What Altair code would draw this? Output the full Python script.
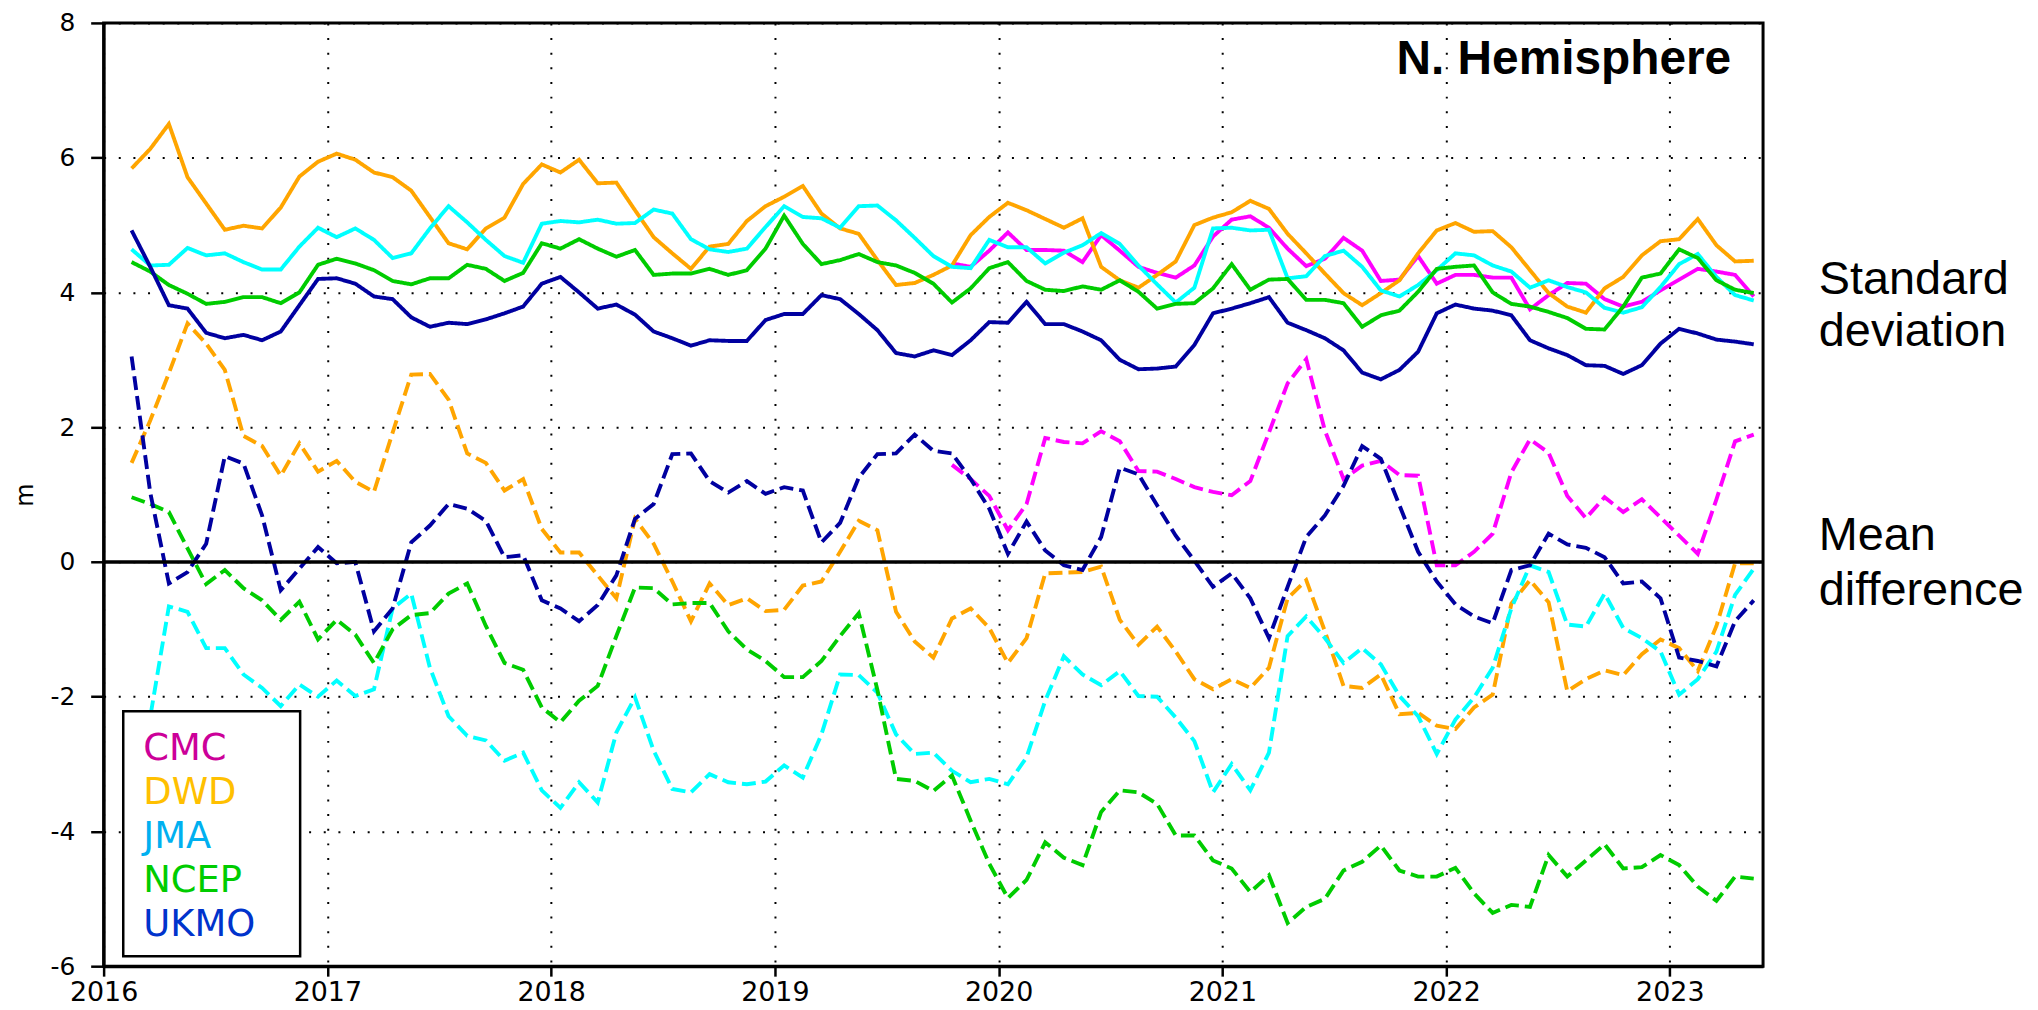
import altair as alt
import pandas as pd

# ---------------- data ----------------
models = ["CMC", "DWD", "JMA", "NCEP", "UKMO"]
line_colors = ["#ff00ff", "#ffa500", "#00ffff", "#00cc00", "#0000a0"]
legend_colors = ["#cc0099", "#ffc000", "#00b0f0", "#00cc00", "#0033cc"]
year_ticks = [2016, 2017, 2018, 2019, 2020, 2021, 2022, 2023]
value_ticks = [-6, -4, -2, 0, 2, 4, 6, 8]

# monthly points, Feb 2016 .. May 2023
months = []
for yy in range(2016, 2024):
    for mm in range(1, 13):
        if (2016, 2) <= (yy, mm) <= (2023, 5):
            months.append(f"{yy}-{mm:02d}")

# Standard deviation (solid)
dwd_sd = [5.84, 6.13, 6.50, 5.71, 5.32, 4.93, 4.99, 4.95, 5.26, 5.72,
          5.94, 6.06, 5.97, 5.78, 5.71, 5.51, 5.12, 4.73, 4.64, 4.95,
          5.11, 5.61, 5.90, 5.78, 5.97, 5.62, 5.63, 5.22, 4.82, 4.58,
          4.35, 4.68, 4.72, 5.06, 5.28, 5.42, 5.58, 5.17, 4.95, 4.87,
          4.48, 4.11, 4.14, 4.26, 4.40, 4.85, 5.12, 5.33, 5.22, 5.09,
          4.96, 5.10, 4.38, 4.18, 4.07, 4.26, 4.46, 5.00, 5.11, 5.19,
          5.36, 5.24, 4.87, 4.58, 4.28, 3.99, 3.81, 3.99, 4.18, 4.58,
          4.92, 5.03, 4.90, 4.91, 4.67, 4.33, 3.99, 3.79, 3.70, 4.06,
          4.23, 4.55, 4.76, 4.79, 5.09, 4.70, 4.46, 4.47]
jma_sd = [4.64, 4.40, 4.41, 4.66, 4.55, 4.58, 4.45, 4.34, 4.34, 4.68,
          4.96, 4.82, 4.95, 4.78, 4.51, 4.58, 4.95, 5.28, 5.04, 4.78,
          4.54, 4.44, 5.02, 5.06, 5.04, 5.08, 5.02, 5.03, 5.23, 5.17,
          4.79, 4.64, 4.60, 4.65, 4.97, 5.28, 5.12, 5.10, 4.96, 5.28,
          5.29, 5.07, 4.81, 4.54, 4.38, 4.36, 4.78, 4.67, 4.67, 4.43,
          4.59, 4.70, 4.88, 4.72, 4.40, 4.12, 3.85, 4.07, 4.95, 4.96,
          4.92, 4.93, 4.21, 4.24, 4.54, 4.62, 4.38, 4.03, 3.94, 4.11,
          4.33, 4.58, 4.55, 4.40, 4.31, 4.07, 4.18, 4.08, 4.00, 3.77,
          3.70, 3.78, 4.08, 4.42, 4.57, 4.23, 3.96, 3.88]
ncep_sd = [4.45, 4.31, 4.11, 3.98, 3.83, 3.86, 3.93, 3.93, 3.84, 4.00,
           4.41, 4.50, 4.43, 4.33, 4.17, 4.12, 4.21, 4.21, 4.41, 4.35,
           4.17, 4.29, 4.73, 4.65, 4.79, 4.65, 4.53, 4.63, 4.26, 4.28,
           4.28, 4.35, 4.26, 4.33, 4.65, 5.14, 4.72, 4.42, 4.48, 4.57,
           4.45, 4.40, 4.29, 4.13, 3.85, 4.06, 4.36, 4.45, 4.17, 4.04,
           4.02, 4.09, 4.04, 4.18, 4.01, 3.76, 3.83, 3.84, 4.06, 4.42,
           4.04, 4.19, 4.20, 3.89, 3.89, 3.84, 3.49, 3.66, 3.73, 4.01,
           4.35, 4.38, 4.40, 4.00, 3.83, 3.79, 3.71, 3.62, 3.46, 3.45,
           3.79, 4.22, 4.28, 4.64, 4.51, 4.18, 4.04, 3.99]
ukmo_sd = [4.92, 4.38, 3.81, 3.76, 3.40, 3.32, 3.37, 3.29, 3.42, 3.81,
           4.20, 4.21, 4.13, 3.94, 3.90, 3.63, 3.49, 3.55, 3.53, 3.60,
           3.69, 3.79, 4.13, 4.23, 4.00, 3.76, 3.82, 3.67, 3.42, 3.32,
           3.21, 3.29, 3.28, 3.28, 3.59, 3.68, 3.68, 3.96, 3.90, 3.68,
           3.44, 3.10, 3.05, 3.14, 3.07, 3.29, 3.56, 3.55, 3.86, 3.53,
           3.53, 3.42, 3.29, 3.00, 2.86, 2.87, 2.90, 3.22, 3.69, 3.76,
           3.84, 3.93, 3.55, 3.44, 3.32, 3.14, 2.81, 2.71, 2.85, 3.12,
           3.69, 3.82, 3.76, 3.73, 3.66, 3.29, 3.17, 3.07, 2.92, 2.91,
           2.79, 2.92, 3.24, 3.46, 3.39, 3.30, 3.27, 3.23]
cmc_sd = [4.43, 4.38, 4.62, 4.89, 4.63, 4.63, 4.62, 4.45, 4.85, 4.62,
          4.38, 4.29, 4.22, 4.40, 4.83, 5.08, 5.13, 4.96, 4.65, 4.39,
          4.50, 4.81, 4.62, 4.17, 4.19, 4.54, 4.13, 4.26, 4.26, 4.22,
          4.22, 3.75, 3.96, 4.14, 4.13, 3.90, 3.79, 3.86, 4.03, 4.19,
          4.35, 4.31, 4.26, 3.94]

# Mean difference (dashed)
dwd_md = [1.47, 2.10, 2.80, 3.54, 3.24, 2.85, 1.87, 1.72, 1.28, 1.76,
          1.34, 1.50, 1.19, 1.04, 1.92, 2.78, 2.79, 2.41, 1.61, 1.47,
          1.06, 1.23, 0.49, 0.14, 0.14, -0.20, -0.54, 0.64, 0.27, -0.29,
          -0.88, -0.32, -0.64, -0.54, -0.73, -0.71, -0.35, -0.29, 0.15, 0.61,
          0.47, -0.74, -1.18, -1.42, -0.84, -0.69, -0.98, -1.50, -1.13, -0.17,
          -0.16, -0.15, -0.07, -0.86, -1.23, -0.96, -1.33, -1.74, -1.89, -1.74,
          -1.87, -1.57, -0.54, -0.27, -1.03, -1.84, -1.87, -1.67, -2.26, -2.24,
          -2.43, -2.48, -2.16, -1.97, -0.62, -0.27, -0.60, -1.92, -1.74, -1.61,
          -1.68, -1.37, -1.15, -1.28, -1.62, -0.95, -0.02, -0.02]
jma_md = [-3.10, -2.30, -0.66, -0.74, -1.28, -1.28, -1.67, -1.87, -2.14, -1.82,
          -2.00, -1.76, -1.99, -1.89, -0.69, -0.47, -1.57, -2.29, -2.58, -2.65,
          -2.95, -2.83, -3.39, -3.65, -3.27, -3.57, -2.53, -2.01, -2.80, -3.37,
          -3.42, -3.15, -3.27, -3.30, -3.26, -3.02, -3.20, -2.56, -1.67, -1.68,
          -1.94, -2.56, -2.85, -2.83, -3.10, -3.27, -3.22, -3.30, -2.90, -2.06,
          -1.40, -1.67, -1.83, -1.62, -1.99, -2.00, -2.31, -2.66, -3.42, -3.00,
          -3.39, -2.83, -1.10, -0.81, -1.13, -1.50, -1.28, -1.52, -1.99, -2.29,
          -2.85, -2.34, -2.01, -1.57, -0.69, -0.05, -0.15, -0.93, -0.96, -0.47,
          -0.98, -1.13, -1.33, -1.97, -1.74, -1.33, -0.49, -0.10]
ncep_md = [0.96, 0.86, 0.74, 0.20, -0.33, -0.12, -0.39, -0.57, -0.86, -0.59,
           -1.15, -0.86, -1.08, -1.50, -1.00, -0.79, -0.76, -0.47, -0.32, -0.95,
           -1.50, -1.60, -2.16, -2.38, -2.06, -1.84, -1.10, -0.38, -0.39, -0.63,
           -0.61, -0.61, -1.03, -1.30, -1.47, -1.71, -1.71, -1.47, -1.10, -0.76,
           -1.90, -3.22, -3.25, -3.40, -3.17, -3.84, -4.48, -4.99, -4.72, -4.16,
           -4.39, -4.50, -3.71, -3.39, -3.42, -3.59, -4.06, -4.06, -4.43, -4.55,
           -4.90, -4.65, -5.36, -5.12, -5.00, -4.58, -4.45, -4.21, -4.58, -4.67,
           -4.67, -4.54, -4.92, -5.21, -5.09, -5.12, -4.35, -4.67, -4.43, -4.19,
           -4.55, -4.53, -4.35, -4.50, -4.82, -5.03, -4.67, -4.70]
ukmo_md = [3.05, 1.03, -0.32, -0.15, 0.27, 1.57, 1.46, 0.69, -0.42, -0.10,
           0.22, -0.02, 0.00, -1.03, -0.69, 0.29, 0.54, 0.86, 0.79, 0.61,
           0.07, 0.10, -0.57, -0.69, -0.88, -0.64, -0.20, 0.64, 0.86, 1.60,
           1.61, 1.20, 1.03, 1.20, 1.01, 1.11, 1.06, 0.29, 0.58, 1.25,
           1.60, 1.61, 1.89, 1.65, 1.61, 1.23, 0.79, 0.12, 0.60, 0.17,
           -0.05, -0.12, 0.37, 1.40, 1.30, 0.84, 0.39, 0.02, -0.37, -0.17,
           -0.54, -1.13, -0.37, 0.37, 0.69, 1.13, 1.72, 1.53, 0.84, 0.15,
           -0.29, -0.63, -0.81, -0.91, -0.12, -0.05, 0.42, 0.26, 0.21, 0.07,
           -0.32, -0.29, -0.54, -1.42, -1.47, -1.55, -0.88, -0.57]
cmc_md = [1.44, 1.23, 0.98, 0.47, 0.86, 1.84, 1.78, 1.76, 1.94, 1.79,
          1.35, 1.34, 1.23, 1.11, 1.04, 0.99, 1.20, 1.92, 2.65, 3.01,
          1.95, 1.23, 1.43, 1.50, 1.29, 1.28, -0.05, -0.05, 0.15, 0.42,
          1.33, 1.82, 1.62, 0.98, 0.65, 0.96, 0.74, 0.93, 0.66, 0.39,
          0.12, 0.93, 1.79, 1.89]

series = {
    ("CMC", "sd"): cmc_sd, ("DWD", "sd"): dwd_sd, ("JMA", "sd"): jma_sd,
    ("NCEP", "sd"): ncep_sd, ("UKMO", "sd"): ukmo_sd,
    ("CMC", "md"): cmc_md, ("DWD", "md"): dwd_md, ("JMA", "md"): jma_md,
    ("NCEP", "md"): ncep_md, ("UKMO", "md"): ukmo_md,
}

rows = []
for (model, kind), vals in series.items():
    mlist = months[len(months) - len(vals):]
    for mstr, v in zip(mlist, vals):
        yy, mm = int(mstr[:4]), int(mstr[5:])
        rows.append({"t": yy + (mm - 0.5) / 12.0, "value": v,
                     "model": model, "kind": kind})
df = pd.DataFrame(rows)

W, H = 1666, 947

# ---------------- chart ----------------
lines = alt.Chart(df).mark_line(strokeWidth=3.9, clip=True, strokeCap="butt").encode(
    x=alt.X("t:Q",
            scale=alt.Scale(domain=[2016, 2023 + 5 / 12], nice=False, zero=False),
            axis=alt.Axis(values=year_ticks, labelExpr="'' + datum.value",
                          title=None, tickSize=10, labelPadding=3,
                          labelFlush=False, labelFontSize=27)),
    y=alt.Y("value:Q",
            scale=alt.Scale(domain=[-6, 8], nice=False, zero=False),
            axis=alt.Axis(values=value_ticks, labelExpr="'' + datum.value",
                          title="m", tickSize=13, labelPadding=16,
                          labelFlush=False, labelFontSize=25,
                          titleFont="DejaVu Sans", titleFontSize=24,
                          titleFontWeight="normal", titleAngle=-90,
                          titleX=-71, titleY=H / 2, titleAlign="center",
                          titleBaseline="alphabetic")),
    color=alt.Color("model:N", scale=alt.Scale(domain=models, range=line_colors),
                    legend=None),
    strokeDash=alt.StrokeDash("kind:N",
                              scale=alt.Scale(domain=["sd", "md"],
                                              range=[[1, 0], [14, 6]]),
                              legend=None),
)

zero_rule = alt.Chart(pd.DataFrame({"z": [0]})).mark_rule(
    color="black", strokeWidth=3.5).encode(y=alt.datum(0))

title_txt = alt.Chart(pd.DataFrame({"s": ["N. Hemisphere"]})).mark_text(
    font="Liberation Sans", fontSize=48, fontWeight="bold", align="right",
    baseline="alphabetic", color="black").encode(
    text="s:N", x=alt.value(W - 32), y=alt.value(51))

sd_txt = alt.Chart(pd.DataFrame({"s": ["Standard\ndeviation"]})).mark_text(
    font="Liberation Sans", fontSize=47, align="left", baseline="alphabetic",
    lineBreak="\n", lineHeight=52, color="black").encode(
    text="s:N", x=alt.value(1722), y=alt.value(272))

md_txt = alt.Chart(pd.DataFrame({"s": ["Mean\ndifference"]})).mark_text(
    font="Liberation Sans", fontSize=47, align="left", baseline="alphabetic",
    lineBreak="\n", lineHeight=55, color="black").encode(
    text="s:N", x=alt.value(1722), y=alt.value(529))

legend_box = alt.Chart(pd.DataFrame({"a": [0]})).mark_rect(
    fill="white", stroke="black", strokeWidth=2.5).encode(
    x=alt.value(19.7), x2=alt.value(197.3), y=alt.value(691), y2=alt.value(937))

legend_layers = []
for i, (name, col) in enumerate(zip(models, legend_colors)):
    legend_layers.append(
        alt.Chart(pd.DataFrame({"s": [name]})).mark_text(
            font="DejaVu Sans", fontSize=37, align="left", baseline="alphabetic",
            color=col).encode(text="s:N", x=alt.value(39.8),
                              y=alt.value(740 + 44.2 * i)))

chart = alt.layer(lines, zero_rule, title_txt, sd_txt, md_txt, legend_box,
                  *legend_layers).properties(
    width=W, height=H,
    padding={"left": 96, "top": 13, "right": 268, "bottom": 41},
    autosize=alt.AutoSizeParams(type="none"),
).configure_view(
    stroke="black", strokeWidth=3
).configure_axis(
    domainColor="black", domainWidth=3, tickColor="black", tickWidth=2.5,
    labelFont="DejaVu Sans", labelColor="black",
    grid=True, gridColor="black", gridDash=[2, 12.7], gridWidth=2,
    gridOpacity=1
)

chart.save("out.html", embed_options={"renderer": "svg", "actions": False})
